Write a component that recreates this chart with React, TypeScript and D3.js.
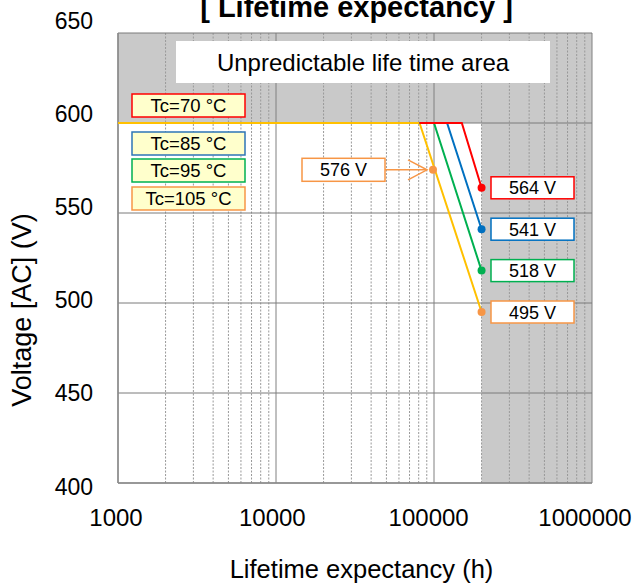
import React from "react";
import * as d3 from "d3";

// ---- data ----
const seriesNames = ["Tc=70 °C", "Tc=85 °C", "Tc=95 °C", "Tc=105 °C"];
const flatStartHours = [81000, 81000, 81000, 1000];
const kneeHours = [150000, 121000, 100000, 81000];
const endHours = [200000, 200000, 200000, 200000];
const ratedVoltage = 600;
const endVoltages = [564, 541, 518, 495];
const endLabels = ["564 V", "541 V", "518 V", "495 V"];
const calloutHours = 100000;
const calloutVoltage = 574;
const calloutLabel = "576 V";
const xTicks = [1000, 10000, 100000, 1000000];
const xTickLabels = ["1000", "10000", "100000", "1000000"];
const yTicks = [400, 450, 500, 550, 600, 650];
const yTickLabels = ["400", "450", "500", "550", "600", "650"];
const unpredictableHours = 200000;
const areaLabel = "Unpredictable life time area";
const titleText = "[ Lifetime expectancy ]";
const xTitle = "Lifetime expectancy (h)";
const yTitle = "Voltage [AC] (V)";

// ---- styles ----
const lineColors = ["#ff0000", "#0070c0", "#00b050", "#ffc000"];
const markColors = ["#ff0000", "#0070c0", "#00b050", "#f79646"];
const legendBorders = ["#ff0000", "#2e75b6", "#00b050", "#f79646"];
const FONT = "Arial, 'Liberation Sans', sans-serif";
const W = 635, H = 583;
const L = 118, R = 592, T = 33, B = 483;

export default function App() {
  const x = d3.scaleLog().domain([1000, 1000000]).range([L, R]);
  const y = d3.scaleLinear().domain([400, 650]).range([B, T]);
  const yLab = d3.scaleLinear().domain([400, 650]).range([486, 20.5]);
  const xLab = d3.scaleLog().domain([1000, 1000000]).range([116, 585]);
  const minor = x.ticks().filter((t) => !xTicks.includes(t));
  const line = d3.line<[number, number]>().x((d) => x(d[0])).y((d) => y(d[1]));

  const seriesPts = seriesNames.map((_, i) => [
    [flatStartHours[i], ratedVoltage],
    [kneeHours[i], ratedVoltage],
    [endHours[i], endVoltages[i]],
  ] as [number, number][]);
  const drawOrder = [3, 2, 1, 0];

  const legendY = [94, 132, 159, 187];
  const cx = x(calloutHours) - 1;
  const cy = y(calloutVoltage);

  return (
    <svg width={W} height={H} style={{ position: "absolute", left: 0, top: 0, background: "#fff" }} fontFamily={FONT}>
      {/* shaded unpredictable area */}
      <rect x={L} y={y(650)} width={R - L} height={y(ratedVoltage) - y(650)} fill="#c9c9c9" />
      <rect x={x(unpredictableHours)} y={y(ratedVoltage)} width={R - x(unpredictableHours)} height={B - y(ratedVoltage)} fill="#c9c9c9" />

      {/* minor grid */}
      {minor.map((t) => (
        <line key={"m" + t} x1={x(t)} x2={x(t)} y1={T} y2={B} stroke="#999" strokeWidth={1} strokeDasharray="2,1.5" />
      ))}
      {/* major vertical grid */}
      {xTicks.map((t) => (
        <line key={"v" + t} x1={x(t)} x2={x(t)} y1={T} y2={B} stroke="#808080" strokeWidth={1} />
      ))}
      {/* horizontal grid */}
      {yTicks.map((t) => (
        <line key={"h" + t} x1={L} x2={R} y1={y(t)} y2={y(t)} stroke="#7a7a7a" strokeWidth={1} />
      ))}
      {/* axes */}
      <line x1={L} x2={L} y1={T} y2={B} stroke="#8c8c8c" strokeWidth={1.5} />
      <line x1={L} x2={R} y1={B} y2={B} stroke="#8c8c8c" strokeWidth={1.5} />

      {/* area label */}
      <rect x={176} y={41} width={374} height={42} fill="#ffffff" />
      <text x={363} y={71} fontSize={24} textAnchor="middle" fill="#000">{areaLabel}</text>

      {/* series lines */}
      {drawOrder.map((i) => (
        <path key={"s" + i} d={line(seriesPts[i]) || ""} fill="none" stroke={lineColors[i]} strokeWidth={2} />
      ))}
      {/* end markers */}
      {seriesNames.map((_, i) => (
        <circle key={"c" + i} cx={x(endHours[i])} cy={y(endVoltages[i])} r={4} fill={markColors[i]} />
      ))}

      {/* end labels */}
      {seriesNames.map((_, i) => {
        const yy = y(endVoltages[i]);
        return (
          <g key={"e" + i}>
            <rect x={491} y={yy - 11} width={83} height={22} fill="#fff" stroke={markColors[i]} strokeWidth={1.5} />
            <text x={532.5} y={yy + 6.5} fontSize={18} textAnchor="middle" fill="#000">{endLabels[i]}</text>
          </g>
        );
      })}

      {/* callout */}
      <circle cx={cx} cy={cy} r={4} fill="#f79646" />
      <rect x={302} y={cy - 11.5} width={83} height={23} fill="#fff" stroke="#f79646" strokeWidth={1.5} />
      <text x={343.5} y={cy + 6.5} fontSize={18} textAnchor="middle" fill="#000">{calloutLabel}</text>
      <line x1={385} x2={cx - 6} y1={cy} y2={cy} stroke="#f79646" strokeWidth={1.5} />
      <polyline points={`${cx - 25},${cy - 10} ${cx - 6},${cy} ${cx - 25},${cy + 10}`} fill="none" stroke="#f79646" strokeWidth={1.5} />

      {/* legend */}
      {seriesNames.map((n, i) => (
        <g key={"l" + i}>
          <rect x={132} y={legendY[i]} width={113} height={23} fill="#ffffcc" stroke={legendBorders[i]} strokeWidth={1.5} />
          <text x={188.5} y={legendY[i] + 18} fontSize={18.5} textAnchor="middle" fill="#000">{n}</text>
        </g>
      ))}

      {/* tick labels */}
      {yTicks.map((t, i) => (
        <text key={"yl" + t} x={93} y={yLab(t) + 8.5} fontSize={23} textAnchor="end" fill="#000">{yTickLabels[i]}</text>
      ))}
      {xTicks.map((t, i) => (
        <text key={"xl" + t} x={xLab(t)} y={526} fontSize={24} textAnchor="middle" fill="#000">{xTickLabels[i]}</text>
      ))}

      {/* titles */}
      <text x={356.5} y={17} fontSize={29} fontWeight="bold" textAnchor="middle" fill="#000">{titleText}</text>
      <text x={361.5} y={578} fontSize={25.5} textAnchor="middle" fill="#000">{xTitle}</text>
      <text transform="translate(31,310) rotate(-90)" fontSize={27} textAnchor="middle" fill="#000">{yTitle}</text>
    </svg>
  );
}
